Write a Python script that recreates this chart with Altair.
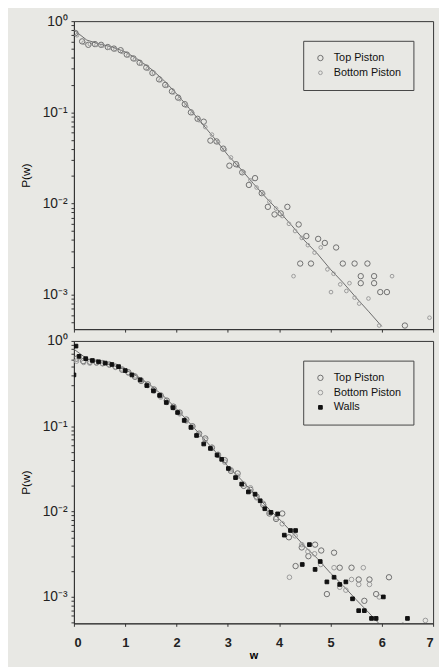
import altair as alt
import pandas as pd

# ---------------- data ----------------
X_TICKS = [0, 1, 2, 3, 4, 5, 6, 7]
Y_DECADES = [1, 0.1, 0.01, 0.001]
Y_MINOR = [0.9, 0.8, 0.7, 0.6, 0.5, 0.4, 0.3, 0.2,
           0.09, 0.08, 0.07, 0.06, 0.05, 0.04, 0.03, 0.02,
           0.009, 0.008, 0.007, 0.006, 0.005, 0.004, 0.003, 0.002,
           0.0009, 0.0008, 0.0007, 0.0006, 0.0005]
SERIES_TOP = ["Top Piston", "Bottom Piston"]
SERIES_BOTTOM = ["Top Piston", "Bottom Piston", "Walls"]

# theory curve (solid gray line)
LINE_W = [0, 0.25, 0.5, 0.75, 1.0, 1.25, 1.5, 1.75, 2.0, 2.25, 2.5, 2.75, 3.0,
          3.25, 3.5, 3.75, 4.0, 4.25, 4.5, 4.75, 5.0, 5.25, 5.5, 5.75, 6.0]
LINE_P = [0.80, 0.62, 0.56, 0.52, 0.46, 0.38, 0.30, 0.225, 0.16, 0.11, 0.075,
          0.051, 0.034, 0.024, 0.0165, 0.0115, 0.0082, 0.0057, 0.0039, 0.0028,
          0.0019, 0.00135, 0.00093, 0.00065, 0.00045]

# upper panel
TOP_TP = [(0.03, 0.74), (0.16, 0.60), (0.28, 0.55), (0.41, 0.56), (0.53, 0.55),
          (0.66, 0.52), (0.78, 0.50), (0.91, 0.48), (1.03, 0.43), (1.16, 0.39),
          (1.28, 0.35), (1.41, 0.31), (1.53, 0.27), (1.66, 0.23), (1.78, 0.20),
          (1.91, 0.17), (2.03, 0.145), (2.16, 0.123), (2.28, 0.10), (2.41, 0.085),
          (2.53, 0.079), (2.66, 0.049), (2.78, 0.048), (2.91, 0.040), (3.03, 0.026),
          (3.16, 0.027), (3.28, 0.022), (3.41, 0.016), (3.53, 0.019), (3.66, 0.013),
          (3.78, 0.0092), (3.91, 0.0076), (4.03, 0.0078), (4.16, 0.0092),
          (4.38, 0.0059), (4.41, 0.0022), (4.53, 0.0044), (4.62, 0.0022),
          (4.76, 0.0041), (4.89, 0.0037), (5.11, 0.0033), (5.24, 0.0022),
          (5.47, 0.0022), (5.59, 0.0016), (5.72, 0.0022), (5.85, 0.0016),
          (5.59, 0.00134), (5.85, 0.00134), (5.97, 0.00107), (6.10, 0.00107),
          (6.45, 0.00046)]
TOP_BP = [(0.06, 0.70), (0.19, 0.58), (0.31, 0.56), (0.44, 0.55), (0.56, 0.54),
          (0.69, 0.51), (0.81, 0.49), (0.94, 0.46), (1.06, 0.42), (1.19, 0.38),
          (1.31, 0.34), (1.44, 0.30), (1.56, 0.27), (1.69, 0.225), (1.81, 0.195),
          (1.94, 0.165), (2.06, 0.14), (2.19, 0.118), (2.31, 0.098), (2.44, 0.082),
          (2.56, 0.069), (2.69, 0.057), (2.81, 0.047), (2.94, 0.039), (3.06, 0.032),
          (3.19, 0.026), (3.31, 0.022), (3.44, 0.018), (3.56, 0.015), (3.69, 0.0128),
          (3.81, 0.0105), (3.94, 0.0088), (4.06, 0.0073), (4.19, 0.006),
          (4.28, 0.0016), (4.31, 0.005), (4.44, 0.0042), (4.56, 0.0035),
          (4.69, 0.0029), (4.81, 0.0033), (4.94, 0.0019), (5.01, 0.00107),
          (5.06, 0.0017), (5.19, 0.0013), (5.31, 0.0011), (5.37, 0.00134),
          (5.47, 0.00093), (5.56, 0.0008), (5.74, 0.00091), (5.95, 0.00046),
          (6.20, 0.0016), (6.93, 0.00056)]

# lower panel
BOT_TP = [(0.05, 0.62), (0.18, 0.58), (0.31, 0.57), (0.44, 0.56), (0.56, 0.55),
          (0.69, 0.53), (0.81, 0.50), (0.94, 0.46), (1.06, 0.43), (1.19, 0.38),
          (1.31, 0.34), (1.44, 0.31), (1.56, 0.27), (1.69, 0.23), (1.81, 0.20),
          (1.94, 0.17), (2.06, 0.145), (2.19, 0.12), (2.31, 0.10), (2.44, 0.082),
          (2.56, 0.072), (2.69, 0.056), (2.81, 0.046), (2.94, 0.040), (3.06, 0.030),
          (3.19, 0.028), (3.31, 0.020), (3.44, 0.018), (3.56, 0.015), (3.69, 0.012),
          (3.81, 0.0095), (3.94, 0.0082), (4.06, 0.0095), (4.19, 0.0050),
          (4.32, 0.0023), (4.44, 0.0038), (4.57, 0.0030), (4.70, 0.0041),
          (4.82, 0.0035), (4.93, 0.00108), (5.07, 0.0033), (5.18, 0.0022),
          (5.41, 0.0022), (5.55, 0.0016), (5.66, 0.0009), (5.76, 0.0016),
          (5.89, 0.00108), (6.14, 0.0017), (6.41, 0.00046)]
BOT_BP = [(0.05, 0.58), (0.19, 0.56), (0.31, 0.55), (0.44, 0.55), (0.56, 0.54),
          (0.69, 0.52), (0.81, 0.49), (0.94, 0.47), (1.06, 0.42), (1.19, 0.39),
          (1.31, 0.35), (1.44, 0.30), (1.56, 0.26), (1.69, 0.22), (1.81, 0.19),
          (1.94, 0.165), (2.06, 0.14), (2.19, 0.115), (2.31, 0.098), (2.44, 0.08),
          (2.56, 0.069), (2.69, 0.057), (2.81, 0.047), (2.94, 0.038), (3.06, 0.031),
          (3.19, 0.026), (3.31, 0.021), (3.44, 0.019), (3.56, 0.0145), (3.69, 0.0125),
          (3.81, 0.0098), (3.94, 0.0085), (4.06, 0.0072), (4.20, 0.0017),
          (4.31, 0.0052), (4.44, 0.0041), (4.56, 0.0034), (4.69, 0.0032),
          (4.81, 0.0024), (5.07, 0.0022), (5.18, 0.0013), (5.30, 0.0012),
          (5.41, 0.0016), (5.55, 0.0014), (5.64, 0.0022), (5.76, 0.0014),
          (5.95, 0.001), (6.85, 0.00053)]
BOT_WALLS = [(0.0, 0.40), (0.04, 0.87), (0.10, 0.66), (0.23, 0.62), (0.36, 0.59),
             (0.48, 0.57), (0.61, 0.55), (0.74, 0.53), (0.87, 0.50), (1.00, 0.45),
             (1.13, 0.40), (1.29, 0.35), (1.42, 0.30), (1.55, 0.26), (1.67, 0.23),
             (1.80, 0.19), (1.93, 0.165), (2.02, 0.145), (2.15, 0.117), (2.28, 0.097),
             (2.39, 0.078), (2.53, 0.062), (2.66, 0.055), (2.79, 0.046), (2.88, 0.041),
             (3.01, 0.032), (3.15, 0.025), (3.27, 0.021), (3.40, 0.017), (3.53, 0.016),
             (3.63, 0.0134), (3.72, 0.0108), (3.84, 0.0098), (3.97, 0.0094),
             (4.10, 0.0053), (4.22, 0.006), (4.32, 0.006), (4.45, 0.0024),
             (4.59, 0.0041), (4.70, 0.0021), (4.80, 0.0026), (4.93, 0.0015),
             (5.07, 0.0017), (5.18, 0.0014), (5.30, 0.0015), (5.43, 0.00095),
             (5.55, 0.00069), (5.66, 0.00069), (5.80, 0.00056), (5.89, 0.00056),
             (6.03, 0.001), (6.50, 0.00056)]

# ---------------- build ----------------
BG = "#e8e8e4"
FONT = "Liberation Sans"


def to_df(pairs, name):
    return pd.DataFrame({"w": [a for a, b in pairs], "p": [b for a, b in pairs], "series": name})


line_df = pd.DataFrame({"w": LINE_W, "p": LINE_P})

top_pts = pd.concat([to_df(TOP_TP, "Top Piston"), to_df(TOP_BP, "Bottom Piston")], ignore_index=True)
bot_pts = pd.concat([to_df(BOT_TP, "Top Piston"), to_df(BOT_BP, "Bottom Piston"),
                     to_df(BOT_WALLS, "Walls")], ignore_index=True)

STROKES = {"Top Piston": "#6e6e6e", "Bottom Piston": "#9a9a9a", "Walls": "#111111"}
FILLS = {"Top Piston": "transparent", "Bottom Piston": "transparent", "Walls": "#111111"}
SHAPES = {"Top Piston": "circle", "Bottom Piston": "circle", "Walls": "square"}
SIZES = {"Top Piston": 30, "Bottom Piston": 14, "Walls": 22}

label_expr = ("datum.value == 1 ? '10⁰' : datum.value == 0.1 ? '10⁻¹' : "
              "datum.value == 0.01 ? '10⁻²' : datum.value == 0.001 ? '10⁻³' : ''")


def panel(pts, series, ymin, height, bottom):
    x_axis = alt.Axis(values=X_TICKS, labels=bottom, title="w" if bottom else None,
                      tickSize=3, labelPadding=11, labelFontSize=13, labelFont=FONT,
                      labelFontWeight="bold", labelColor="#222", titleFont=FONT,
                      titleFontSize=11, titleFontWeight="bold", titlePadding=0,
                      grid=False, domainColor="#333", tickColor="#333")
    y_axis = alt.Axis(values=Y_DECADES + Y_MINOR, labelExpr=label_expr, title="P(w)",
                      tickSize=3, labelPadding=4, labelFontSize=14, labelFont=FONT,
                      labelColor="#222", titleFont=FONT, titleFontSize=12,
                      titleFontWeight="normal", titlePadding=10, grid=False,
                      domainColor="#333", tickColor="#333", labelOverlap=False)
    x = alt.X("w:Q", scale=alt.Scale(domain=[0, 7], nice=False, zero=False), axis=x_axis)
    y = alt.Y("p:Q", scale=alt.Scale(type="log", domain=[ymin, 1], nice=False), axis=y_axis)
    legend = alt.Legend(title=None, orient="top-right", offset=20, padding=12,
                        strokeColor="#444", fillColor=BG, labelFont=FONT,
                        labelFontSize=11, labelColor="#111", rowPadding=3,
                        labelOffset=8, symbolStrokeWidth=1)
    line = alt.Chart(line_df).mark_line(color="#6a6a6a", strokeWidth=1, clip=True).encode(x=x, y=y)
    points = alt.Chart(pts).mark_point(clip=True, strokeWidth=1, opacity=1).encode(
        x=x, y=y,
        stroke=alt.Stroke("series:N", scale=alt.Scale(domain=series, range=[STROKES[s] for s in series]), legend=legend),
        fill=alt.Fill("series:N", scale=alt.Scale(domain=series, range=[FILLS[s] for s in series]), legend=legend),
        shape=alt.Shape("series:N", scale=alt.Scale(domain=series, range=[SHAPES[s] for s in series]), legend=legend),
        size=alt.Size("series:N", scale=alt.Scale(domain=series, range=[SIZES[s] for s in series]), legend=legend),
    )
    return alt.layer(line, points).properties(width=365, height=height)


top = panel(top_pts, SERIES_TOP, 4.2e-4, 313, False)
bottom = panel(bot_pts, SERIES_BOTTOM, 4.9e-4, 287, True)

chart = alt.vconcat(top, bottom, spacing=0).resolve_scale(
    y="independent", stroke="independent", fill="independent",
    shape="independent", size="independent"
).resolve_legend(
    stroke="independent", fill="independent", shape="independent", size="independent"
).properties(
    background=BG, padding={"left": 11, "top": 0, "right": 5, "bottom": 0}
).configure_view(stroke="#333", strokeWidth=1, fill=BG)

chart.save("out.html", embed_options={"renderer": "svg", "actions": False})
